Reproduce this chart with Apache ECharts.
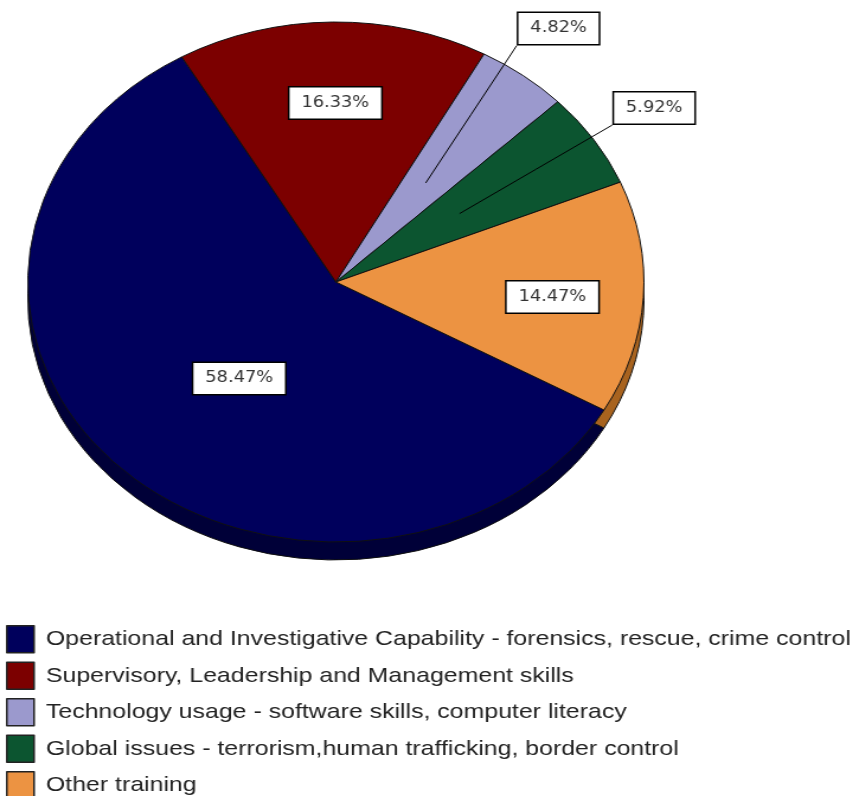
<!DOCTYPE html>
<html>
<head>
<meta charset="utf-8">
<title>Training types</title>
<script src="https://cdn.jsdelivr.net/npm/echarts@6/dist/echarts.min.js"></script>
<style>
  html, body { margin: 0; padding: 0; background: #fff; overflow: hidden; }
  /* the source picture is stretched sideways, so the whole chart is drawn narrow and widened */
  #chart { width: 725px; height: 796px; transform: scaleX(1.1848); transform-origin: 0 0; }
</style>
</head>
<body>
<div id="chart"></div>
<script>
  var categories = [
    'Operational and Investigative Capability - forensics, rescue, crime control',
    'Supervisory, Leadership and Management skills',
    'Technology usage - software skills, computer literacy',
    'Global issues - terrorism,human trafficking, border control',
    'Other training'
  ];
  var shares = [58.47, 16.33, 4.82, 5.92, 14.47];
  var faceColors = ['#00005c', '#7c0000', '#9b99cd', '#0c5530', '#ec9342'];
  var sideColors = ['#000038', '#4a0000', '#66648f', '#06361e', '#a8631f'];

  // label tweaks: inside labels get a small nudge, outside ones carry a leader line
  var labelPos = ['inside', 'inside', 'outside', 'outside', 'inside'];
  var labelNudge = [[12, 2], [1, -46], [-15, -39], [4, -26], [50, 7]];

  var PIE_CX = 283.5, PIE_CY = 282, PIE_R = 260, DEPTH = 18;

  var labelBox = {
    formatter: function (p) { return p.value.toFixed(2) + '%'; },
    fontFamily: 'DejaVu Sans, Verdana, sans-serif',
    fontSize: 15,
    lineHeight: 15,
    color: '#333',
    backgroundColor: '#fff',
    borderColor: '#000',
    borderWidth: 1.5,
    padding: [8, 10]
  };

  function nudge(p) {
    var n = labelNudge[p.dataIndex];
    var out = { dx: n[0], dy: n[1] };
    if (labelPos[p.dataIndex] === 'outside' && p.labelLinePoints) {
      var edge = p.labelLinePoints[0];
      var inner = [PIE_CX + 0.48 * (edge[0] - PIE_CX), PIE_CY + 0.48 * (edge[1] - PIE_CY)];
      var r = p.labelRect;
      var corner = [r.x + n[0], r.y + r.height + n[1]];
      out.labelLinePoints = [inner, [(inner[0] + corner[0]) / 2, (inner[1] + corner[1]) / 2], corner];
    }
    return out;
  }

  var chart = echarts.init(document.getElementById('chart'));

  chart.setOption({
    animation: false,
    legend: {
      orient: 'vertical',
      left: 5,
      top: 625,
      height: 220,
      padding: 0,
      itemWidth: 23,
      itemHeight: 27,
      itemGap: 8,
      icon: 'rect',
      data: categories,
      itemStyle: { borderColor: '#222', borderWidth: 1.5 },
      textStyle: {
        fontFamily: 'Liberation Sans, Arial, sans-serif',
        fontSize: 21,
        color: '#222',
        padding: [0, 0, 0, 5]
      }
    },
    series: [
      {
        // top face of the pie, with the labels that sit inside the slices
        name: 'face',
        type: 'pie',
        z: 3,
        center: [PIE_CX, PIE_CY],
        radius: PIE_R,
        startAngle: -29.5,
        clockwise: true,
        avoidLabelOverlap: false,
        emphasis: { scale: false },
        itemStyle: { borderColor: '#111', borderWidth: 1 },
        label: labelBox,
        labelLine: { show: false },
        labelLayout: nudge,
        data: categories.map(function (c, i) {
          return {
            name: c,
            value: shares[i],
            itemStyle: { color: faceColors[i] },
            label: { show: labelPos[i] === 'inside', position: 'inside' }
          };
        })
      },
      {
        // see-through copy on top, only for the outside labels so their lines cross the slices
        name: 'callouts',
        type: 'pie',
        z: 4,
        silent: true,
        center: [PIE_CX, PIE_CY],
        radius: PIE_R,
        startAngle: -29.5,
        clockwise: true,
        avoidLabelOverlap: false,
        itemStyle: { color: 'rgba(0,0,0,0)', borderWidth: 0 },
        label: labelBox,
        labelLine: {
          length: 10,
          length2: 0,
          lineStyle: { color: '#000', width: 1, opacity: 1 }
        },
        labelLayout: nudge,
        data: categories.map(function (c, i) {
          var out = labelPos[i] === 'outside';
          return {
            name: c,
            value: shares[i],
            label: { show: out, position: 'outside' },
            labelLine: { show: out }
          };
        })
      },
      {
        // the pie's rim, shifted down
        name: 'side',
        type: 'pie',
        z: 2,
        silent: true,
        center: [PIE_CX, PIE_CY + DEPTH],
        radius: PIE_R,
        startAngle: -29.5,
        clockwise: true,
        label: { show: false },
        labelLine: { show: false },
        itemStyle: { borderColor: '#111', borderWidth: 1 },
        data: categories.map(function (c, i) {
          return { name: c, value: shares[i], itemStyle: { color: sideColors[i] } };
        })
      }
    ]
  });
</script>
</body>
</html>
